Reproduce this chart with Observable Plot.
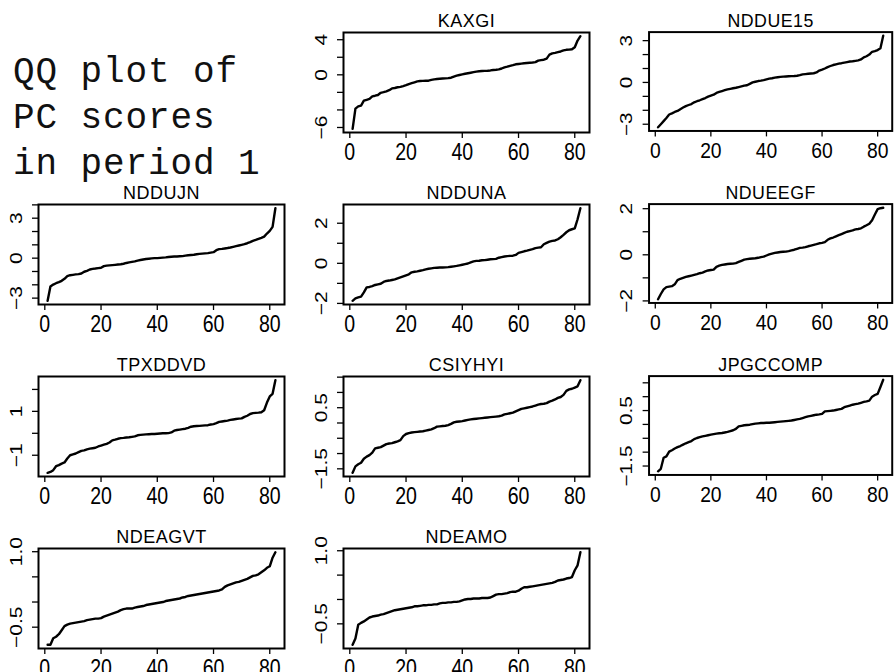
<!DOCTYPE html>
<html><head><meta charset="utf-8">
<script src="https://cdn.jsdelivr.net/npm/d3@7"></script>
<script src="https://cdn.jsdelivr.net/npm/@observablehq/plot@0.6"></script>
<style>
html,body{margin:0;padding:0;background:#fff;overflow:hidden;width:895px;height:672px;}
#root{position:relative;width:895px;height:672px;overflow:hidden;}
.panel{position:absolute;}
#note{position:absolute;left:13px;top:50px;font-family:"Liberation Mono","Courier New",monospace;font-size:36px;letter-spacing:0.9px;line-height:46px;white-space:pre;color:#111;}
</style></head><body><div id="root"><div id="note">QQ plot of
PC scores
in period 1</div></div>
<script>
// ---- data: sorted PC scores (index 1..82) ----
const KAXGI = [-6.15,-3.85,-3.6,-3.5,-2.95,-2.85,-2.75,-2.45,-2.38,-2.3,-2.05,-1.98,-1.88,-1.75,-1.55,-1.5,-1.42,-1.37,-1.28,-1.18,-1.05,-0.95,-0.85,-0.75,-0.7,-0.69,-0.68,-0.67,-0.58,-0.52,-0.48,-0.45,-0.42,-0.4,-0.38,-0.33,-0.2,-0.1,-0.02,0.05,0.12,0.18,0.24,0.3,0.36,0.4,0.43,0.45,0.47,0.5,0.55,0.58,0.62,0.72,0.85,0.93,1.02,1.1,1.2,1.24,1.28,1.32,1.35,1.38,1.41,1.45,1.62,1.68,1.72,1.85,2.3,2.45,2.5,2.58,2.66,2.78,2.85,2.87,2.92,3.15,3.9,4.4];
const NDDUE15 = [-3.22,-3.0,-2.78,-2.55,-2.3,-2.22,-2.12,-2.05,-1.92,-1.8,-1.7,-1.62,-1.55,-1.43,-1.35,-1.28,-1.2,-1.12,-1.02,-0.95,-0.88,-0.75,-0.68,-0.62,-0.56,-0.5,-0.46,-0.42,-0.38,-0.33,-0.28,-0.23,-0.2,-0.1,0.0,0.05,0.1,0.13,0.17,0.22,0.27,0.3,0.34,0.37,0.4,0.42,0.43,0.44,0.45,0.46,0.48,0.52,0.58,0.6,0.62,0.64,0.66,0.72,0.85,0.92,1.0,1.1,1.18,1.25,1.3,1.35,1.38,1.42,1.46,1.5,1.52,1.55,1.58,1.65,1.8,1.88,2.0,2.2,2.25,2.32,2.45,3.35];
const NDDUJN = [-3.2,-2.13,-1.98,-1.88,-1.8,-1.7,-1.55,-1.35,-1.28,-1.25,-1.22,-1.2,-1.15,-1.02,-0.95,-0.85,-0.8,-0.78,-0.75,-0.72,-0.6,-0.56,-0.54,-0.52,-0.5,-0.48,-0.46,-0.42,-0.36,-0.32,-0.28,-0.24,-0.18,-0.14,-0.1,-0.06,-0.04,-0.02,0.0,0.0,0.02,0.04,0.06,0.09,0.11,0.12,0.13,0.14,0.15,0.19,0.22,0.24,0.26,0.29,0.32,0.34,0.36,0.38,0.42,0.45,0.6,0.68,0.7,0.73,0.76,0.8,0.85,0.9,0.95,1.0,1.05,1.12,1.2,1.3,1.37,1.45,1.53,1.62,1.85,2.05,2.35,3.75];
const NDDUNA = [-1.87,-1.75,-1.7,-1.66,-1.45,-1.2,-1.18,-1.14,-1.08,-1.05,-1.02,-0.93,-0.88,-0.86,-0.83,-0.8,-0.75,-0.7,-0.65,-0.6,-0.55,-0.45,-0.42,-0.4,-0.37,-0.34,-0.3,-0.27,-0.25,-0.23,-0.22,-0.21,-0.21,-0.2,-0.19,-0.17,-0.15,-0.13,-0.1,-0.07,-0.04,-0.01,0.05,0.1,0.12,0.13,0.15,0.16,0.18,0.2,0.21,0.22,0.28,0.31,0.34,0.36,0.37,0.38,0.42,0.52,0.56,0.6,0.63,0.67,0.71,0.76,0.78,0.8,0.95,1.02,1.08,1.12,1.14,1.2,1.3,1.42,1.55,1.65,1.7,1.74,2.2,2.75];
const NDUEEGF = [-1.93,-1.7,-1.5,-1.4,-1.38,-1.36,-1.28,-1.1,-1.04,-1.0,-0.96,-0.93,-0.9,-0.87,-0.84,-0.8,-0.77,-0.72,-0.68,-0.66,-0.64,-0.52,-0.47,-0.44,-0.42,-0.4,-0.39,-0.38,-0.36,-0.31,-0.26,-0.21,-0.19,-0.17,-0.16,-0.15,-0.13,-0.1,-0.08,-0.03,0.02,0.05,0.08,0.1,0.12,0.13,0.14,0.16,0.19,0.22,0.26,0.3,0.31,0.33,0.37,0.4,0.43,0.46,0.5,0.52,0.55,0.65,0.71,0.75,0.8,0.85,0.9,0.95,1.0,1.03,1.06,1.1,1.12,1.15,1.22,1.28,1.35,1.5,1.75,1.98,2.02,2.04];
const TPXDDVD = [-1.8,-1.76,-1.68,-1.5,-1.45,-1.38,-1.33,-1.15,-1.0,-0.96,-0.92,-0.86,-0.8,-0.78,-0.73,-0.7,-0.68,-0.66,-0.6,-0.56,-0.52,-0.48,-0.42,-0.32,-0.29,-0.25,-0.22,-0.21,-0.19,-0.18,-0.16,-0.14,-0.09,-0.07,-0.06,-0.05,-0.04,-0.03,-0.03,-0.02,-0.01,0.0,0.0,0.01,0.04,0.12,0.15,0.17,0.19,0.21,0.25,0.3,0.32,0.33,0.34,0.35,0.36,0.37,0.4,0.42,0.46,0.52,0.54,0.56,0.58,0.61,0.63,0.65,0.67,0.68,0.75,0.8,0.88,0.92,0.93,0.94,0.96,1.05,1.4,1.68,1.8,2.42];
const CSIYHYI = [-1.63,-1.42,-1.35,-1.3,-1.17,-1.1,-1.05,-0.97,-0.83,-0.81,-0.79,-0.74,-0.69,-0.67,-0.66,-0.63,-0.6,-0.56,-0.43,-0.36,-0.33,-0.31,-0.3,-0.29,-0.28,-0.27,-0.25,-0.23,-0.21,-0.17,-0.12,-0.11,-0.1,-0.09,-0.07,-0.03,0.02,0.04,0.05,0.06,0.08,0.1,0.12,0.13,0.14,0.15,0.16,0.17,0.18,0.19,0.2,0.21,0.22,0.24,0.28,0.3,0.32,0.34,0.38,0.42,0.46,0.48,0.5,0.52,0.54,0.57,0.6,0.62,0.63,0.65,0.7,0.73,0.77,0.82,0.85,0.92,1.05,1.1,1.12,1.16,1.2,1.4];
const JPGCCOMP = [-1.69,-1.6,-1.2,-1.15,-0.98,-0.93,-0.87,-0.82,-0.78,-0.73,-0.68,-0.64,-0.6,-0.53,-0.49,-0.46,-0.43,-0.41,-0.39,-0.37,-0.35,-0.33,-0.32,-0.31,-0.29,-0.27,-0.24,-0.21,-0.16,-0.07,-0.05,-0.03,-0.02,-0.01,0.01,0.03,0.04,0.05,0.05,0.06,0.06,0.07,0.08,0.09,0.1,0.11,0.12,0.13,0.14,0.16,0.18,0.2,0.23,0.26,0.29,0.31,0.33,0.35,0.36,0.38,0.47,0.48,0.49,0.5,0.52,0.54,0.56,0.62,0.65,0.68,0.71,0.73,0.75,0.78,0.81,0.83,0.86,1.0,1.06,1.1,1.35,1.61];
const NDEAGVT = [-0.85,-0.85,-0.72,-0.69,-0.64,-0.56,-0.48,-0.45,-0.43,-0.42,-0.41,-0.4,-0.39,-0.38,-0.36,-0.35,-0.34,-0.33,-0.33,-0.32,-0.29,-0.27,-0.25,-0.23,-0.21,-0.19,-0.16,-0.14,-0.13,-0.13,-0.13,-0.11,-0.1,-0.09,-0.08,-0.06,-0.05,-0.04,-0.03,-0.02,-0.01,0.0,0.02,0.03,0.04,0.05,0.06,0.07,0.09,0.1,0.12,0.13,0.14,0.15,0.16,0.17,0.18,0.19,0.2,0.21,0.22,0.23,0.25,0.3,0.33,0.35,0.37,0.39,0.4,0.42,0.44,0.46,0.49,0.52,0.53,0.55,0.59,0.63,0.68,0.71,0.88,0.99];
const NDEAMO = [-0.93,-0.8,-0.52,-0.48,-0.45,-0.41,-0.37,-0.35,-0.34,-0.33,-0.31,-0.3,-0.28,-0.26,-0.24,-0.22,-0.21,-0.2,-0.19,-0.18,-0.17,-0.16,-0.14,-0.14,-0.13,-0.12,-0.12,-0.11,-0.11,-0.1,-0.1,-0.08,-0.07,-0.07,-0.06,-0.06,-0.05,-0.05,-0.04,-0.02,0.0,0.01,0.01,0.02,0.02,0.02,0.03,0.03,0.03,0.04,0.07,0.1,0.11,0.11,0.12,0.13,0.15,0.16,0.16,0.18,0.22,0.25,0.25,0.26,0.27,0.28,0.29,0.3,0.31,0.32,0.33,0.34,0.36,0.39,0.4,0.41,0.43,0.44,0.46,0.6,0.7,0.97];

// ---- panel titles, tick values, labelled ticks ----
const titles = ["KAXGI","NDDUE15","NDDUJN","NDDUNA","NDUEEGF","TPXDDVD","CSIYHYI","JPGCCOMP","NDEAGVT","NDEAMO"];
const series = [KAXGI,NDDUE15,NDDUJN,NDDUNA,NDUEEGF,TPXDDVD,CSIYHYI,JPGCCOMP,NDEAGVT,NDEAMO];
const xTicks = [0,20,40,60,80];
const yTicks = [
  [-6,-4,-2,0,2,4],
  [-3,-2,-1,0,1,2,3],
  [-3,-2,-1,0,1,2,3,4],
  [-2,-1,0,1,2],
  [-2,-1,0,1,2],
  [-1,0,1,2],
  [-1.5,-1,-0.5,0,0.5,1,1.5],
  [-1.5,-1,-0.5,0,0.5,1,1.5],
  [-0.5,0,0.5,1],
  [-0.5,0,0.5,1]
];
const yLabels = [
  [-6,0,4],[-3,0,3],[-3,0,3],[-2,0,2],[-2,0,2],[-1,1],[-1.5,0.5],[-1.5,0.5],[-0.5,1],[-0.5,1]
];
const yDecimals = [0,0,0,0,0,0,1,1,1,1];

// ---- layout (grid cell of each panel) ----
const cells = [[0,1],[0,2],[1,0],[1,1],[1,2],[2,0],[2,1],[2,2],[3,0],[3,1]];
const boxLeft = [38.3, 343.3, 649.3];
const boxTop = [32.3, 203.5, 375.5, 547.7];
const boxW = 246, boxH = 100;
const mL = 40, mR = 3, mT = 34, mB = 40;

function squeeze(node, sx, sy) {
  const tr = node.getAttribute("transform") || "";
  node.setAttribute("transform", tr + ` scale(${sx},${sy})`);
}

const root = document.getElementById("root");
series.forEach((vals, k) => {
  const n = vals.length;
  const pts = vals.map((v, i) => ({i: i + 1, v}));
  const xr = n - 1;
  const xdom = [1 - 0.04 * xr, n + 0.04 * xr];
  const [mn, mx] = d3.extent(vals);
  const yr = mx - mn;
  const ydom = [mn - 0.04 * yr, mx + 0.04 * yr];
  const yt = yTicks[k].filter(t => t >= ydom[0] && t <= ydom[1]);
  const fmt = d3.format(yDecimals[k] ? ".1f" : "d");
  const labs = yLabels[k];
  const chart = Plot.plot({
    width: boxW + mL + mR,
    height: boxH + mT + mB,
    marginLeft: mL, marginRight: mR, marginTop: mT, marginBottom: mB,
    x: {domain: xdom, label: null},
    y: {domain: ydom, label: null},
    style: {fontFamily: "'Liberation Sans', Arial, sans-serif", color: "#000", background: "transparent", overflow: "visible"},
    marks: [
      Plot.axisX({ticks: xTicks, tickSize: 6, tickPadding: 5, tickFormat: d => String(d), fontSize: 23, strokeWidth: 1.3, label: null}),
      Plot.axisY({ticks: yt, tickSize: 6, tickPadding: 11, tickRotate: -90, tickFormat: d => labs.includes(d) ? fmt(d) : "", fontSize: 21, strokeWidth: 1.3, label: null}),
      Plot.line(pts, {x: "i", y: "v", stroke: "#000", strokeWidth: 2.4}),
      Plot.frame({stroke: "#000", strokeWidth: 2}),
      Plot.text([titles[k]], {frameAnchor: "top", dy: -11, lineAnchor: "middle", fontSize: 18, fill: "#000"})
    ]
  });
  chart.querySelectorAll('[aria-label="x-axis tick label"] text').forEach(t => squeeze(t, 0.85, 1));
  chart.querySelectorAll('[aria-label="y-axis tick label"] text').forEach(t => squeeze(t, 1, 0.8));
  chart.querySelectorAll('[aria-label="text"] text').forEach(t => t.setAttribute("letter-spacing", "0.5"));
  const [r, c] = cells[k];
  const wrap = document.createElement("div");
  wrap.className = "panel";
  wrap.style.left = (boxLeft[c] - mL) + "px";
  wrap.style.top = (boxTop[r] - mT) + "px";
  wrap.appendChild(chart);
  root.appendChild(wrap);
});
</script>
</body></html>
